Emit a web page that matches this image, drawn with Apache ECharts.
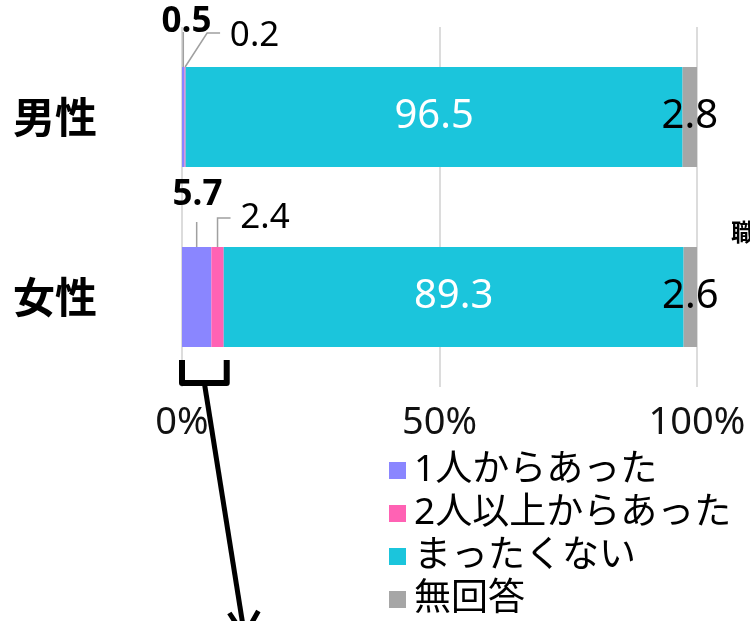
<!DOCTYPE html>
<html><head><meta charset="utf-8">
<script src="https://cdn.jsdelivr.net/npm/echarts@6/dist/echarts.min.js"></script>
<style>html,body{margin:0;padding:0;background:#fff}#c{width:750px;height:621px}</style>
</head><body><div id="c"></div>
<script>
const categories = ['男性', '女性'];
const seriesNames = ['1人からあった', '2人以上からあった', 'まったくない', '無回答'];
const onePerson = [0.5, 5.7];
const twoOrMore = [0.2, 2.4];
const none = [96.5, 89.3];
const noAnswer = [2.8, 2.6];
const xTicks = [0, 50, 100];
const colors = ['#8a86ff', '#ff62b4', '#1bc5dc', '#a6a6a6'];
const FONT = '"Noto Sans", "Noto Sans CJK JP", sans-serif';

const chart = echarts.init(document.getElementById('c'), null, {renderer: 'canvas'});
const fmt = p => p.value.toFixed(1);

const option = {
  animation: false,
  backgroundColor: '#fff',
  textStyle: {fontFamily: FONT},
  grid: {left: 182, right: 53, top: 27, bottom: 234, containLabel: false},
  xAxis: {
    type: 'value', min: xTicks[0], max: xTicks[xTicks.length - 1], interval: xTicks[1] - xTicks[0],
    axisLine: {show: false}, axisTick: {show: false},
    splitLine: {show: true, lineStyle: {color: '#dcdcdc', width: 2}},
    axisLabel: {formatter: '{value}%', fontSize: 38, color: '#111', margin: 17, fontFamily: FONT}
  },
  yAxis: {
    type: 'category', data: categories, inverse: true,
    axisLine: {show: false}, axisTick: {show: false}, splitLine: {show: false},
    axisLabel: {fontSize: 42, fontWeight: 'bold', color: '#000', margin: 85, fontFamily: '"Noto Sans CJK JP", sans-serif'}
  },
  legend: {
    orient: 'vertical', left: 389, top: 452, padding: 0, itemGap: 6,
    itemWidth: 17, itemHeight: 17, icon: 'rect', selectedMode: false,
    textStyle: {fontSize: 37, color: '#000', lineHeight: 37, padding: [0, 0, 0, 3], fontFamily: FONT},
    data: seriesNames
  },
  series: [
    {
      name: seriesNames[0], type: 'bar', stack: 'a', barWidth: 100,
      itemStyle: {color: colors[0]},
      label: {show: true, formatter: fmt, fontSize: 35, fontWeight: 'bold', color: '#000', align: 'center', verticalAlign: 'middle'},
      data: onePerson.map((v, i) => ({value: v, label: {position: i === 0 ? [4.5, -44.5] : [15.5, -51.5]}}))
    },
    {
      name: seriesNames[1], type: 'bar', stack: 'a', barWidth: 100,
      itemStyle: {color: colors[1]},
      label: {show: true, formatter: fmt, fontSize: 35, color: '#000', align: 'center', verticalAlign: 'middle'},
      data: twoOrMore.map((v, i) => ({value: v, label: {position: i === 0 ? [70, -31] : [53.6, -29]}}))
    },
    {
      name: seriesNames[2], type: 'bar', stack: 'a', barWidth: 100,
      itemStyle: {color: colors[2]},
      label: {show: true, position: 'inside', formatter: fmt, fontSize: 40, color: '#fff'},
      data: none
    },
    {
      name: seriesNames[3], type: 'bar', stack: 'a', barWidth: 100,
      itemStyle: {color: colors[3]},
      label: {show: true, position: 'inside', formatter: fmt, fontSize: 40, color: '#000'},
      data: noAnswer
    }
  ]
};
chart.setOption(option);

// annotation graphics computed from axis scales
const X = v => chart.convertToPixel({xAxisIndex: 0}, v);
const Y = c => chart.convertToPixel({yAxisIndex: 0}, c);
const half = 50;
const topM = Y(categories[0]) - half;
const topF = Y(categories[1]) - half;
const botF = Y(categories[1]) + half;
const leader = {stroke: '#a0a0a0', lineWidth: 1.5, fill: null};
const g = [];
// male small segments
const xm1 = X(onePerson[0] / 2);
g.push({type: 'polyline', shape: {points: [[xm1, topM], [xm1, topM - 35]]}, style: leader, z: 10});
const xm2 = X(onePerson[0] + twoOrMore[0] / 2);
g.push({type: 'polyline', shape: {points: [[xm2, topM], [xm2 + 22, topM - 34], [xm2 + 35, topM - 34]]}, style: leader, z: 10});
// female small segments
const xf1 = X(onePerson[1] / 2);
g.push({type: 'polyline', shape: {points: [[xf1, topF], [xf1, topF - 25]]}, style: leader, z: 10});
const xf2 = X(onePerson[1] + twoOrMore[1] / 2);
g.push({type: 'polyline', shape: {points: [[xf2, topF], [xf2, topF - 29], [xf2 + 13, topF - 29]]}, style: leader, z: 10});
// bracket under female small segments
const bl = X(0), br = X(onePerson[1] + twoOrMore[1]) + 3;
const bt = botF + 13, bb = botF + 36;
g.push({type: 'polyline', shape: {points: [[bl, bt], [bl, bb], [br, bb], [br, bt]]},
  style: {stroke: '#000', lineWidth: 6, fill: null, lineJoin: 'round', lineCap: 'butt'}, z: 20});
const mx = (bl + br) / 2;
g.push({type: 'line', shape: {x1: mx, y1: bb, x2: mx + 39, y2: bb + 245},
  style: {stroke: '#000', lineWidth: 5}, z: 20});
g.push({type: 'polyline', shape: {points: [[mx + 25, bb + 230], [mx + 40, bb + 253], [mx + 54, bb + 228]]},
  style: {stroke: '#000', lineWidth: 5, fill: null}, z: 20});
// cut-off side text
g.push({type: 'text', left: 731, top: 220, style: {text: '職', fontSize: 24, fontWeight: 'bold', fill: '#000', fontFamily: '"Noto Sans CJK JP", sans-serif'}, z: 20});
chart.setOption({graphic: g});
</script>
</body></html>
